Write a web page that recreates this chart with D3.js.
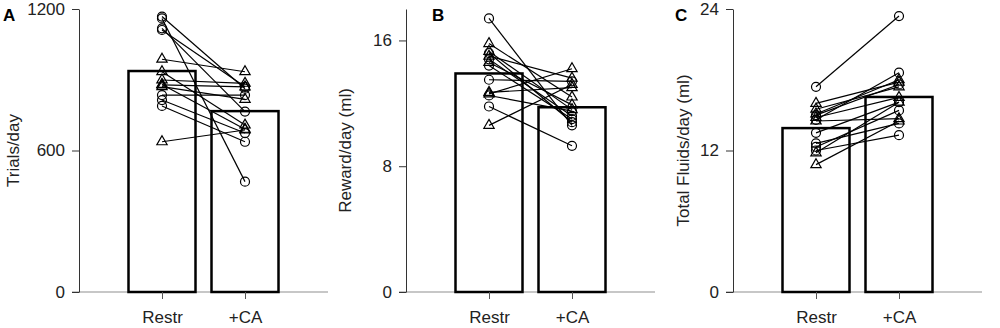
<!DOCTYPE html>
<html>
<head>
<meta charset="utf-8">
<script src="https://cdn.jsdelivr.net/npm/d3@7"></script>
<style>
  body { margin: 0; background: #fff; }
  svg { font-family: "Liberation Sans", Arial, sans-serif; }
</style>
</head>
<body>
<svg width="1000" height="328"></svg>
<script>
// groups on the x axis
const groups = ['Restr', '+CA'];

// marker shape for each animal (c = circle, t = triangle)
const shapes = ['c', 'c', 'c', 'c', 'c', 'c', 'c', 't', 't', 't', 't', 't', 't', 't'];

// trials/day, restricted vs +CA
const trialsRestr = [1168, 1160, 1118, 1111, 835, 814, 789, 987, 934, 899, 878, 871, 637, 880];
const trialsCA    = [862, 468, 765, 870, 835, 674, 637, 934, 708, 885, 870, 817, 687, 690];

// reward/day (ml)
const rewardRestr = [17.4, 14.8, 14.4, 13.5, 12.5, 11.8, 15.2, 15.8, 15.3, 15.0, 14.6, 12.7, 10.6, 12.6];
const rewardCA    = [10.6, 11.2, 11.0, 13.4, 11.5, 9.3, 10.8, 12.4, 11.6, 13.6, 11.9, 13.0, 13.2, 14.2];

// total fluids/day (ml)
const fluidRestr = [17.4, 15.0, 14.6, 13.5, 12.3, 12.0, 12.6, 16.0, 15.5, 15.1, 14.8, 14.5, 10.8, 11.8];
const fluidCA    = [23.4, 17.6, 18.6, 16.1, 15.4, 13.3, 14.3, 17.8, 17.4, 18.0, 16.5, 14.7, 14.5, 16.1];

// bar heights (group means)
const trialsMeans = [937, 767];
const rewardMeans = [13.9, 11.75];
const fluidMeans  = [13.9, 16.54];

const panels = [
  {letter: 'A', label: 'Trials/day', left: 79, max: 1200, ticks: [0, 600, 1200],
   restr: trialsRestr, ca: trialsCA, means: trialsMeans, letterX: 3, labelX: 13},
  {letter: 'B', label: 'Reward/day (ml)', left: 406, max: 18, ticks: [0, 8, 16],
   restr: rewardRestr, ca: rewardCA, means: rewardMeans, letterX: 432, labelX: 345},
  {letter: 'C', label: 'Total Fluids/day (ml)', left: 733, max: 24, ticks: [0, 12, 24],
   restr: fluidRestr, ca: fluidCA, means: fluidMeans, letterX: 675, labelX: 683}
];

const plotTop = 9;
const plotBottom = 292;
const plotWidth = 249;
const barWidth = 67;
const svg = d3.select('svg');

panels.forEach(p => {
  const xScale = d3.scalePoint()
      .domain(groups)
      .range([p.left, p.left + plotWidth])
      .padding(1);
  const yScale = d3.scaleLinear()
      .domain([0, p.max])
      .range([plotBottom, plotTop]);
  const g = svg.append('g');

  // x baseline (gray), under the bars
  g.append('line')
      .attr('x1', p.left - 7)
      .attr('x2', p.left + plotWidth)
      .attr('y1', yScale(0))
      .attr('y2', yScale(0))
      .style('stroke', '#b4b4b4')
      .style('stroke-width', '1.5px');

  // bars
  g.selectAll('rect.bar')
      .data(p.means)
      .enter()
      .append('rect')
      .attr('class', 'bar')
      .attr('x', (d, i) => xScale(groups[i]) - barWidth / 2)
      .attr('y', d => yScale(d))
      .attr('width', barWidth)
      .attr('height', d => yScale(0) - yScale(d))
      .style('fill', 'white')
      .style('stroke', 'black')
      .style('stroke-width', '2.5px');

  const xAxis = d3.axisBottom(xScale)
      .tickSize(7)
      .tickSizeOuter(0)
      .tickPadding(12);
  const xg = g.append('g')
      .attr('transform', `translate(0, ${yScale(0)})`)
      .call(xAxis);
  xg.select('.domain').remove();
  xg.selectAll('line').style('stroke', '#555');
  xg.selectAll('text')
      .style('font-size', '17px')
      .style('fill', '#222');

  // y axis
  const yAxis = d3.axisLeft(yScale)
      .tickValues(p.ticks)
      .tickFormat(d3.format('d'))
      .tickSize(7)
      .tickSizeOuter(0)
      .tickPadding(7);
  const yg = g.append('g')
      .attr('transform', `translate(${p.left}, 0)`)
      .call(yAxis);
  yg.select('.domain').style('stroke', '#333');
  yg.selectAll('line').style('stroke', '#333');
  yg.selectAll('text')
      .style('font-size', '17px')
      .style('fill', '#222');

  // paired lines
  g.selectAll('line.pair')
      .data(p.restr)
      .enter()
      .append('line')
      .attr('class', 'pair')
      .attr('x1', xScale(groups[0]))
      .attr('x2', xScale(groups[1]))
      .attr('y1', d => yScale(d))
      .attr('y2', (d, i) => yScale(p.ca[i]))
      .style('stroke', 'black')
      .style('stroke-width', '1.2px');

  // markers
  const pts = [];
  p.restr.forEach((v, i) => pts.push({g: groups[0], v: v, s: shapes[i]}));
  p.ca.forEach((v, i) => pts.push({g: groups[1], v: v, s: shapes[i]}));
  const tri = d3.symbol().type(d3.symbolTriangle).size(46);
  const circ = d3.symbol().type(d3.symbolCircle).size(Math.PI * 4.5 * 4.5);
  g.selectAll('path.mark')
      .data(pts)
      .enter()
      .append('path')
      .attr('class', 'mark')
      .attr('d', d => d.s === 't' ? tri() : circ())
      .attr('transform', d => `translate(${xScale(d.g)}, ${yScale(d.v)})`)
      .style('fill', 'none')
      .style('stroke', 'black')
      .style('stroke-width', '1.2px');

  // axis title
  svg.append('text')
      .attr('transform', `translate(${p.labelX + 6}, ${(plotTop + plotBottom) / 2}) rotate(-90)`)
      .attr('text-anchor', 'middle')
      .style('font-size', '17px')
      .style('fill', '#222')
      .text(p.label);

  // panel letter
  svg.append('text')
      .attr('x', p.letterX)
      .attr('y', 21)
      .style('font-size', '17px')
      .style('font-weight', 'bold')
      .text(p.letter);
});
</script>
</body>
</html>
